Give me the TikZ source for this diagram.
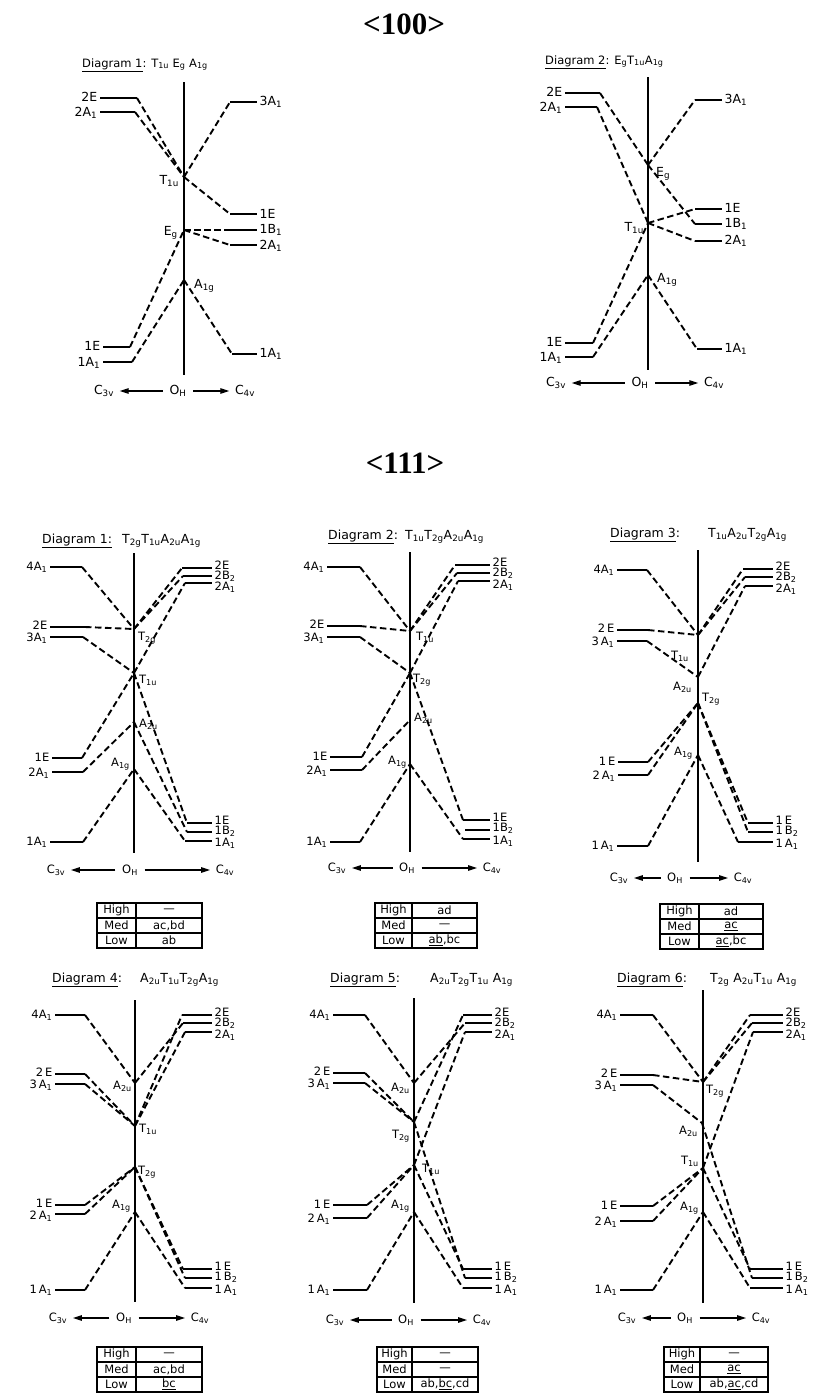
\documentclass[tikz,border=0pt]{standalone}
\usepackage{fontspec}
\setmainfont{DejaVu Sans}
\newfontfamily\titlefont{Liberation Serif}
\usetikzlibrary{arrows.meta}
% left level: name, x1, x2, y, label y, label
\newcommand{\levL}[6]{%
  \coordinate (#1o) at (#2,#4);
  \coordinate (#1) at (#3,#4);
  \draw[lvl] (#1o) -- (#1);
  \node[lab,anchor=east] (#1t) at (#2,#5) {#6};}
% right level: name, x1, x2, y, label y, label
\newcommand{\levR}[6]{%
  \coordinate (#1) at (#2,#4);
  \coordinate (#1o) at (#3,#4);
  \draw[lvl] (#1) -- (#1o);
  \node[lab,anchor=west] (#1t) at (#3,#5) {#6};}
% vertical axis: name, x, ytop, ybottom
\newcommand{\vbar}[4]{%
  \coordinate (#1top) at (#2,#3);
  \coordinate (#1bot) at (#2,#4);
  \draw[axisline] (#1top) -- (#1bot);}
% symmetry axis: prefix, y, xC3v, xOH, xC4v
\newcommand{\symaxis}[5]{%
  \node[lab] (#1c3) at (#3,#2) {C\textsubscript{3v}};
  \node[lab] (#1oh) at (#4,#2) {O\textsubscript{H}};
  \node[lab] (#1c4) at (#5,#2) {C\textsubscript{4v}};
  \draw[axarrow] (#1oh.west) -- (#1c3.east);
  \draw[axarrow] (#1oh.east) -- (#1c4.west);}
% table: name, x1, xdiv, x2, ytop, high, med, low
\newcommand{\restab}[8]{%
  \coordinate (#1nw) at (#2,#5);
  \coordinate (#1se) at (#4,{#5+45});
  \draw[tabline] (#1nw) rectangle (#1se);
  \coordinate (#1dt) at (#3,#5);
  \coordinate (#1db) at (#3,{#5+45});
  \draw[tabline] (#1dt) -- (#1db);
  \coordinate (#1al) at (#2,{#5+15});
  \coordinate (#1ar) at (#4,{#5+15});
  \draw[tabline] (#1al) -- (#1ar);
  \coordinate (#1bl) at (#2,{#5+30});
  \coordinate (#1br) at (#4,{#5+30});
  \draw[tabline] (#1bl) -- (#1br);
  \node[tabtxt] (#1h) at ({(#2+#3)/2},{#5+7.5}) {High};
  \node[tabtxt] (#1m) at ({(#2+#3)/2},{#5+22.5}) {Med};
  \node[tabtxt] (#1l) at ({(#2+#3)/2},{#5+37.5}) {Low};
  \node[tabtxt] (#1hv) at ({(#3+#4)/2},{#5+7.5}) {#6};
  \node[tabtxt] (#1mv) at ({(#3+#4)/2},{#5+22.5}) {#7};
  \node[tabtxt] (#1lv) at ({(#3+#4)/2},{#5+37.5}) {#8};}
\newcommand{\sbs}[1]{\textsubscript{#1}}
\begin{document}
\begin{tikzpicture}[x=1pt,y=-1pt,
  lvl/.style={line width=1.5pt},
  cor/.style={line width=1.9pt,dash pattern=on 6.5pt off 3.5pt},
  axisline/.style={line width=1.3pt},
  lab/.style={font=\fontsize{11.5}{12}\selectfont,inner xsep=2.5pt,inner ysep=0pt},
  ptlab/.style={font=\fontsize{11.5}{12}\selectfont,inner sep=1pt},
  ttl/.style={font=\fontsize{12.5}{14}\selectfont,inner sep=0pt,anchor=west},
  axarrow/.style={line width=1.2pt,-{Triangle[length=9pt,width=5.5pt]},shorten >=3pt,shorten <=4pt},
  tabline/.style={line width=1.3pt},
  tabtxt/.style={font=\fontsize{11.5}{12}\selectfont,inner sep=0pt},
  hdr/.style={font=\titlefont\bfseries\fontsize{31}{33}\selectfont,inner sep=0pt}]
\useasboundingbox (0,0) rectangle (832,1393);

\node[hdr] (h100) at (404,24) {<100>};
\node[hdr] (h111) at (405,463) {<111>};

% ================= <100> Diagram 1 =================
\begin{scope}[lab/.style={font=\fontsize{12.5}{14}\selectfont,inner xsep=2.5pt,inner ysep=0pt},
              ptlab/.style={font=\fontsize{12.5}{14}\selectfont,inner sep=1pt},
              ttl/.style={font=\fontsize{11.5}{13}\selectfont,inner sep=0pt,anchor=west}]
\node[ttl] (pttl) at (82,65) {\underline{Diagram 1}: T\sbs{1u} E\sbs{g} A\sbs{1g}};
\vbar{pv}{184}{82}{375}
\coordinate (pT) at (184,177);
\coordinate (pE) at (184,230);
\coordinate (pA) at (184,280);
\levL{pL2E}{100}{137}{98}{97}{2E}
\levL{pL2A}{100}{135}{112}{113}{2A\sbs{1}}
\levL{pL1E}{103}{130}{347}{346}{1E}
\levL{pL1A}{103}{132}{362}{363}{1A\sbs{1}}
\levR{pR3A}{230}{257}{102}{102}{3A\sbs{1}}
\levR{pR1E}{230}{257}{214}{214}{1E}
\levR{pR1B}{230}{257}{230}{230}{1B\sbs{1}}
\levR{pR2A}{230}{257}{245}{246}{2A\sbs{1}}
\levR{pR1A}{232}{257}{354}{354}{1A\sbs{1}}
\draw[cor] (pL2E) -- (pT);
\draw[cor] (pL2A) -- (pT);
\draw[cor] (pT) -- (pR3A);
\draw[cor] (pT) -- (pR1E);
\draw[cor] (pL1E) -- (pE);
\draw[cor] (pE) -- (pR1B);
\draw[cor] (pE) -- (pR2A);
\draw[cor] (pL1A) -- (pA);
\draw[cor] (pA) -- (pR1A);
\node[ptlab,anchor=east] (pTt) at (180,181) {T\sbs{1u}};
\node[ptlab,anchor=east] (pEt) at (179,233) {E\sbs{g}};
\node[ptlab,anchor=west] (pAt) at (193,286) {A\sbs{1g}};
\symaxis{p}{391}{104}{178}{245}

% ================= <100> Diagram 2 =================
\node[ttl] (qttl) at (545,62) {\underline{Diagram 2}: E\sbs{g}T\sbs{1u}A\sbs{1g}};
\vbar{qv}{648}{77}{370}
\coordinate (qE) at (648,165);
\coordinate (qT) at (648,223);
\coordinate (qA) at (648,275);
\levL{qL2E}{565}{600}{93}{92}{2E}
\levL{qL2A}{565}{597}{107}{108}{2A\sbs{1}}
\levL{qL1E}{565}{593}{343}{342}{1E}
\levL{qL1A}{565}{593}{357}{358}{1A\sbs{1}}
\levR{qR3A}{695}{722}{100}{100}{3A\sbs{1}}
\levR{qR1E}{695}{722}{209}{208}{1E}
\levR{qR1B}{695}{722}{224}{224}{1B\sbs{1}}
\levR{qR2A}{695}{722}{241}{241}{2A\sbs{1}}
\levR{qR1A}{697}{722}{349}{349}{1A\sbs{1}}
\draw[cor] (qL2E) -- (qE);
\draw[cor] (qE) -- (qR1B);
\draw[cor] (qE) -- (qR3A);
\draw[cor] (qL2A) -- (qT);
\draw[cor] (qL1E) -- (qT);
\draw[cor] (qT) -- (qR1E);
\draw[cor] (qT) -- (qR2A);
\draw[cor] (qL1A) -- (qA);
\draw[cor] (qA) -- (qR1A);
\node[ptlab,anchor=west] (qEt) at (655,174) {E\sbs{g}};
\node[ptlab,anchor=east] (qTt) at (645,228) {T\sbs{1u}};
\node[ptlab,anchor=west] (qAt) at (656,280) {A\sbs{1g}};
\symaxis{q}{383}{556}{640}{714}
\end{scope}

% ================= <111> Diagram 1 =================
\node[ttl] (attl) at (42,541) {\underline{Diagram 1:}};
\node[ttl] (afml) at (122,541) {T\sbs{2g}T\sbs{1u}A\sbs{2u}A\sbs{1g}};
\vbar{av}{134}{553}{853}
\coordinate (aTg) at (134,629);
\coordinate (aTu) at (134,673);
\coordinate (aAu) at (134,722);
\coordinate (aAg) at (134,769);
\levL{aL4A}{50}{82}{567}{567}{4A\sbs{1}}
\levL{aL2E}{50}{85}{627}{625}{2E}
\levL{aL3A}{50}{83}{637}{638}{3A\sbs{1}}
\levL{aL1E}{52}{82}{758}{757}{1E}
\levL{aL2A}{52}{83}{772}{773}{2A\sbs{1}}
\levL{aL1A}{50}{83}{842}{842}{1A\sbs{1}}
\levR{aR2E}{182}{212}{568}{565}{2E}
\levR{aR2B}{183}{212}{576}{576}{2B\sbs{2}}
\levR{aR2A}{185}{212}{583}{587}{2A\sbs{1}}
\levR{aR1E}{187}{212}{823}{820}{1E}
\levR{aR1B}{187}{212}{832}{831}{1B\sbs{2}}
\levR{aR1A}{185}{212}{841}{843}{1A\sbs{1}}
\draw[cor] (aL4A) -- (aTg);
\draw[cor] (aL2E) -- (aTg);
\draw[cor] (aL3A) -- (aTu);
\draw[cor] (aL1E) -- (aTu);
\draw[cor] (aL2A) -- (aAu);
\draw[cor] (aL1A) -- (aAg);
\draw[cor] (aTg) -- (aR2E);
\draw[cor] (aTg) -- (aR2B);
\draw[cor] (aTu) -- (aR2A);
\draw[cor] (aTu) -- (aR1E);
\draw[cor] (aAu) -- (aR1B);
\draw[cor] (aAg) -- (aR1A);
\node[ptlab,anchor=west] (aTgt) at (137,638) {T\sbs{2g}};
\node[ptlab,anchor=west] (aTut) at (138,680) {T\sbs{1u}};
\node[ptlab,anchor=west] (aAut) at (138,724) {A\sbs{2u}};
\node[ptlab,anchor=east] (aAgt) at (131,764) {A\sbs{1g}};
\symaxis{a}{870}{56}{130}{225}
\restab{ta}{97}{136}{202}{903}{—}{ac,bd}{ab}

% ================= <111> Diagram 2 =================
\node[ttl] (bttl) at (328,537) {\underline{Diagram 2}:};
\node[ttl] (bfml) at (405,537) {T\sbs{1u}T\sbs{2g}A\sbs{2u}A\sbs{1g}};
\vbar{bv}{410}{552}{852}
\coordinate (bTu) at (410,631);
\coordinate (bTg) at (410,673);
\coordinate (bAu) at (410,720);
\coordinate (bAg) at (410,764);
\levL{bL4A}{327}{360}{567}{567}{4A\sbs{1}}
\levL{bL2E}{327}{360}{626}{624}{2E}
\levL{bL3A}{327}{360}{637}{638}{3A\sbs{1}}
\levL{bL1E}{330}{362}{757}{756}{1E}
\levL{bL2A}{330}{362}{770}{771}{2A\sbs{1}}
\levL{bL1A}{330}{360}{842}{842}{1A\sbs{1}}
\levR{bR2E}{455}{490}{565}{562}{2E}
\levR{bR2B}{457}{490}{573}{573}{2B\sbs{2}}
\levR{bR2A}{458}{490}{581}{585}{2A\sbs{1}}
\levR{bR1E}{463}{490}{820}{817}{1E}
\levR{bR1B}{465}{490}{830}{828}{1B\sbs{2}}
\levR{bR1A}{463}{490}{839}{841}{1A\sbs{1}}
\draw[cor] (bL4A) -- (bTu);
\draw[cor] (bL2E) -- (bTu);
\draw[cor] (bL3A) -- (bTg);
\draw[cor] (bL1E) -- (bTg);
\draw[cor] (bL2A) -- (bAu);
\draw[cor] (bL1A) -- (bAg);
\draw[cor] (bTu) -- (bR2E);
\draw[cor] (bTu) -- (bR2B);
\draw[cor] (bTg) -- (bR2A);
\draw[cor] (bTg) -- (bR1E);
\draw[cor] (bAg) -- (bR1A);
\node[ptlab,anchor=west] (bTut) at (415,637) {T\sbs{1u}};
\node[ptlab,anchor=west] (bTgt) at (412,680) {T\sbs{2g}};
\node[ptlab,anchor=west] (bAut) at (413,718) {A\sbs{2u}};
\node[ptlab,anchor=east] (bAgt) at (408,762) {A\sbs{1g}};
\symaxis{b}{868}{337}{407}{492}
\restab{tb}{375}{412}{477}{903}{ad}{—}{\underline{ab},bc}

% ================= <111> Diagram 3 =================
\node[ttl] (cttl) at (610,535) {\underline{Diagram 3}:};
\node[ttl] (cfml) at (708,535) {T\sbs{1u}A\sbs{2u}T\sbs{2g}A\sbs{1g}};
\vbar{cv}{698}{550}{862}
\coordinate (cTu) at (698,635);
\coordinate (cAu) at (698,677);
\coordinate (cTg) at (698,703);
\coordinate (cAg) at (698,755);
\levL{cL4A}{617}{647}{570}{570}{4A\sbs{1}}
\levL{cL2E}{617}{648}{630}{628}{2\,E}
\levL{cL3A}{617}{647}{641}{642}{3\,A\sbs{1}}
\levL{cL1E}{618}{648}{762}{761}{1\,E}
\levL{cL2A}{618}{648}{775}{776}{2\,A\sbs{1}}
\levL{cL1A}{617}{648}{846}{846}{1\,A\sbs{1}}
\levR{cR2E}{743}{773}{569}{566}{2E}
\levR{cR2B}{745}{773}{577}{577}{2B\sbs{2}}
\levR{cR2A}{745}{773}{586}{589}{2A\sbs{1}}
\levR{cR1E}{748}{773}{823}{820}{1\,E}
\levR{cR1B}{748}{773}{832}{831}{1\,B\sbs{2}}
\levR{cR1A}{738}{773}{842}{844}{1\,A\sbs{1}}
\draw[cor] (cL4A) -- (cTu);
\draw[cor] (cL2E) -- (cTu);
\draw[cor] (cL3A) -- (cAu);
\draw[cor] (cL1E) -- (cTg);
\draw[cor] (cL2A) -- (cTg);
\draw[cor] (cL1A) -- (cAg);
\draw[cor] (cTu) -- (cR2E);
\draw[cor] (cTu) -- (cR2B);
\draw[cor] (cAu) -- (cR2A);
\draw[cor] (cTg) -- (cR1E);
\draw[cor] (cTg) -- (cR1B);
\draw[cor] (cAg) -- (cR1A);
\node[ptlab,anchor=east] (cTut) at (690,656) {T\sbs{1u}};
\node[ptlab,anchor=east] (cAut) at (693,687) {A\sbs{2u}};
\node[ptlab,anchor=west] (cTgt) at (701,699) {T\sbs{2g}};
\node[ptlab,anchor=east] (cAgt) at (694,753) {A\sbs{1g}};
\symaxis{c}{878}{619}{675}{743}
\restab{tc}{660}{699}{763}{904}{ad}{\underline{ac}}{\underline{ac},bc}

% ================= <111> Diagram 4 =================
\node[ttl] (dttl) at (52,980) {\underline{Diagram 4}:};
\node[ttl] (dfml) at (140,980) {A\sbs{2u}T\sbs{1u}T\sbs{2g}A\sbs{1g}};
\vbar{dv}{135}{1000}{1302}
\coordinate (dAu) at (135,1083);
\coordinate (dTu) at (135,1126);
\coordinate (dTg) at (135,1167);
\coordinate (dAg) at (135,1212);
\levL{dL4A}{55}{85}{1015}{1015}{4A\sbs{1}}
\levL{dL2E}{55}{85}{1074}{1072}{2\,E}
\levL{dL3A}{55}{85}{1084}{1085}{3\,A\sbs{1}}
\levL{dL1E}{55}{85}{1205}{1203}{1\,E}
\levL{dL2A}{55}{85}{1214}{1216}{2\,A\sbs{1}}
\levL{dL1A}{55}{85}{1290}{1290}{1\,A\sbs{1}}
\levR{dR2E}{182}{212}{1015}{1012}{2E}
\levR{dR2B}{183}{212}{1023}{1023}{2B\sbs{2}}
\levR{dR2A}{185}{212}{1032}{1035}{2A\sbs{1}}
\levR{dR1E}{183}{212}{1269}{1266}{1\,E}
\levR{dR1B}{185}{212}{1278}{1277}{1\,B\sbs{2}}
\levR{dR1A}{185}{212}{1288}{1290}{1\,A\sbs{1}}
\draw[cor] (dL4A) -- (dAu);
\draw[cor] (dL2E) -- (dTu);
\draw[cor] (dL3A) -- (dTu);
\draw[cor] (dL1E) -- (dTg);
\draw[cor] (dL2A) -- (dTg);
\draw[cor] (dL1A) -- (dAg);
\draw[cor] (dAu) -- (dR2B);
\draw[cor] (dTu) -- (dR2E);
\draw[cor] (dTu) -- (dR2A);
\draw[cor] (dTg) -- (dR1E);
\draw[cor] (dTg) -- (dR1B);
\draw[cor] (dAg) -- (dR1A);
\node[ptlab,anchor=east] (dAut) at (133,1086) {A\sbs{2u}};
\node[ptlab,anchor=west] (dTut) at (138,1129) {T\sbs{1u}};
\node[ptlab,anchor=west] (dTgt) at (137,1172) {T\sbs{2g}};
\node[ptlab,anchor=east] (dAgt) at (132,1206) {A\sbs{1g}};
\symaxis{d}{1318}{58}{124}{200}
\restab{td}{97}{136}{202}{1347}{—}{ac,bd}{\underline{bc}}

% ================= <111> Diagram 5 =================
\node[ttl] (ettl) at (330,980) {\underline{Diagram 5}:};
\node[ttl] (efml) at (430,980) {A\sbs{2u}T\sbs{2g}T\sbs{1u} A\sbs{1g}};
\vbar{ev}{414}{998}{1303}
\coordinate (eAu) at (414,1083);
\coordinate (eTg) at (414,1122);
\coordinate (eTu) at (414,1165);
\coordinate (eAg) at (414,1212);
\levL{eL4A}{333}{365}{1015}{1015}{4A\sbs{1}}
\levL{eL2E}{333}{365}{1073}{1071}{2\,E}
\levL{eL3A}{333}{365}{1083}{1084}{3\,A\sbs{1}}
\levL{eL1E}{333}{367}{1205}{1204}{1\,E}
\levL{eL2A}{333}{367}{1218}{1219}{2\,A\sbs{1}}
\levL{eL1A}{333}{367}{1290}{1290}{1\,A\sbs{1}}
\levR{eR2E}{463}{492}{1015}{1012}{2E}
\levR{eR2B}{465}{492}{1023}{1023}{2B\sbs{2}}
\levR{eR2A}{465}{492}{1032}{1035}{2A\sbs{1}}
\levR{eR1E}{463}{492}{1269}{1266}{1\,E}
\levR{eR1B}{465}{492}{1278}{1277}{1\,B\sbs{2}}
\levR{eR1A}{463}{492}{1288}{1290}{1\,A\sbs{1}}
\draw[cor] (eL4A) -- (eAu);
\draw[cor] (eL2E) -- (eTg);
\draw[cor] (eL3A) -- (eTg);
\draw[cor] (eL1E) -- (eTu);
\draw[cor] (eL2A) -- (eTu);
\draw[cor] (eL1A) -- (eAg);
\draw[cor] (eAu) -- (eR2B);
\draw[cor] (eTg) -- (eR2E);
\draw[cor] (eTu) -- (eR2A);
\draw[cor] (eTg) -- (eR1B);
\draw[cor] (eTu) -- (eR1E);
\draw[cor] (eAg) -- (eR1A);
\node[ptlab,anchor=east] (eAut) at (411,1088) {A\sbs{2u}};
\node[ptlab,anchor=east] (eTgt) at (411,1136) {T\sbs{2g}};
\node[ptlab,anchor=west] (eTut) at (421,1169) {T\sbs{1u}};
\node[ptlab,anchor=east] (eAgt) at (411,1206) {A\sbs{1g}};
\symaxis{e}{1320}{335}{406}{482}
\restab{te}{377}{412}{478}{1347}{—}{—}{ab,\underline{bc},cd}

% ================= <111> Diagram 6 =================
\node[ttl] (fttl) at (617,980) {\underline{Diagram 6}:};
\node[ttl] (ffml) at (710,980) {T\sbs{2g} A\sbs{2u}T\sbs{1u} A\sbs{1g}};
\vbar{fv}{703}{990}{1303}
\coordinate (fTg) at (703,1082);
\coordinate (fAu) at (702,1123);
\coordinate (fTu) at (703,1168);
\coordinate (fAg) at (703,1212);
\levL{fL4A}{620}{653}{1015}{1015}{4A\sbs{1}}
\levL{fL2E}{620}{653}{1075}{1073}{2\,E}
\levL{fL3A}{620}{653}{1085}{1086}{3\,A\sbs{1}}
\levL{fL1E}{620}{653}{1206}{1205}{1\,E}
\levL{fL2A}{620}{653}{1221}{1222}{2\,A\sbs{1}}
\levL{fL1A}{620}{653}{1290}{1290}{1\,A\sbs{1}}
\levR{fR2E}{750}{783}{1015}{1012}{2E}
\levR{fR2B}{752}{783}{1023}{1023}{2B\sbs{2}}
\levR{fR2A}{753}{783}{1032}{1035}{2A\sbs{1}}
\levR{fR1E}{750}{783}{1269}{1266}{1\,E}
\levR{fR1B}{752}{783}{1278}{1277}{1\,B\sbs{2}}
\levR{fR1A}{750}{783}{1288}{1290}{1\,A\sbs{1}}
\draw[cor] (fL4A) -- (fTg);
\draw[cor] (fL2E) -- (fTg);
\draw[cor] (fL3A) -- (fAu);
\draw[cor] (fL1E) -- (fTu);
\draw[cor] (fL2A) -- (fTu);
\draw[cor] (fL1A) -- (fAg);
\draw[cor] (fTg) -- (fR2E);
\draw[cor] (fTg) -- (fR2B);
\draw[cor] (fTu) -- (fR2A);
\draw[cor] (fAu) -- (fR1B);
\draw[cor] (fTu) -- (fR1E);
\draw[cor] (fAg) -- (fR1A);
\node[ptlab,anchor=west] (fTgt) at (705,1091) {T\sbs{2g}};
\node[ptlab,anchor=east] (fAut) at (699,1131) {A\sbs{2u}};
\node[ptlab,anchor=east] (fTut) at (700,1161) {T\sbs{1u}};
\node[ptlab,anchor=east] (fAgt) at (700,1208) {A\sbs{1g}};
\symaxis{f}{1318}{627}{685}{761}
\restab{tf}{664}{700}{768}{1347}{—}{\underline{ac}}{ab,\underline{ac},cd}
\end{tikzpicture}
\end{document}
